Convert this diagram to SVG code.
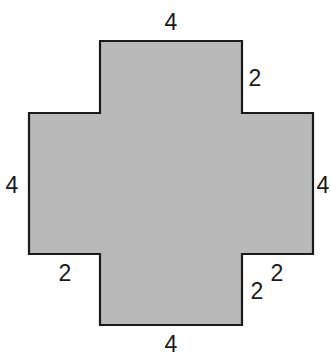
<svg xmlns="http://www.w3.org/2000/svg" width="331" height="358" viewBox="0 0 331 358">
<style>
.shape{fill:#b9b9b9;stroke:#1a1a1a;stroke-width:2.2;stroke-linejoin:miter}
.lbl{font-family:"Liberation Sans",Arial,sans-serif;font-size:23px;fill:#1a1a1a;text-anchor:middle}
</style>
<rect width="331" height="358" fill="#ffffff"/>
<g id="cross">
<path class="shape" d="M100,41 H242 V113 H313 V254 H242 V325 H100 V254 H29 V113 H100 Z"/>
</g>
<g id="labels">
<text class="lbl" x="171" y="30">4</text>
<text class="lbl" x="255" y="86">2</text>
<text class="lbl" x="12" y="193">4</text>
<text class="lbl" x="323" y="193">4</text>
<text class="lbl" x="65" y="281">2</text>
<text class="lbl" x="277" y="281">2</text>
<text class="lbl" x="257" y="299">2</text>
<text class="lbl" x="171" y="352">4</text>
</g>
</svg>
